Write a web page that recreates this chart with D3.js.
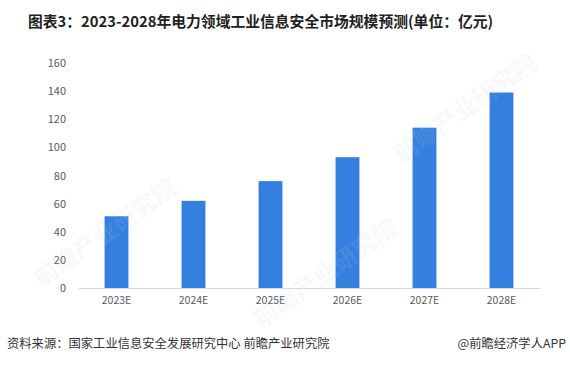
<!DOCTYPE html>
<html><head><meta charset="utf-8">
<script src="https://cdn.jsdelivr.net/npm/d3@7/dist/d3.min.js"></script>
<style>body{margin:0;background:#fff}svg{display:block}</style>
</head><body><svg id="c" width="570" height="366"></svg>
<script>
const categories = ["2023E","2024E","2025E","2026E","2027E","2028E"];
const values = [51, 62, 76, 93, 114, 139];
const yTicks = [0,20,40,60,80,100,120,140,160];
const title = "图表3：2023-2028年电力领域工业信息安全市场规模预测(单位：亿元)";
const source = "资料来源：国家工业信息安全发展研究中心 前瞻产业研究院";
const credit = "@前瞻经济学人APP";

const svg = d3.select("#c");
const font = "'Microsoft YaHei','Noto Sans CJK SC',sans-serif";
const x = d3.scaleBand().domain(categories).range([78,540]).paddingInner(0.69).paddingOuter(0.345);
const y = d3.scaleLinear().domain([0,160]).range([288,63]);

svg.append("text").attr("x",28).attr("y",27).attr("font-family",font).attr("font-size",14.8)
  .attr("font-weight","bold").attr("fill","#222").text(title);

svg.selectAll("rect.bar").data(values).join("rect").attr("class","bar")
  .attr("x",(d,i)=>x(categories[i])).attr("width",x.bandwidth())
  .attr("y",d=>y(d)).attr("height",d=>y(0)-y(d)).attr("fill","#3380E1");

const ya = svg.append("g").attr("transform","translate(66,0)")
  .call(d3.axisLeft(y).tickValues(yTicks).tickSize(0).tickPadding(0));
ya.select(".domain").remove();
ya.selectAll("text").attr("font-family",font).attr("font-size",11).attr("fill","#595959");

const xa = svg.append("g").attr("transform","translate(0,288)")
  .call(d3.axisBottom(x).tickSize(0).tickPadding(9));
xa.select(".domain").attr("stroke","#d9d9d9");
xa.selectAll("text").attr("font-family",font).attr("font-size",10.5).attr("fill","#595959");

svg.append("text").attr("x",7).attr("y",348).attr("font-family",font).attr("font-size",12.3)
  .attr("fill","#333").text(source);
svg.append("text").attr("x",566).attr("y",348).attr("text-anchor","end").attr("font-family",font)
  .attr("font-size",12.3).attr("fill","#333").text(credit);

// faint watermarks on top
const wm = [[110,240],[330,280],[470,115]];
wm.forEach(([wx,wy])=>{
  svg.append("text").attr("transform",`translate(${wx},${wy}) rotate(-35)`)
    .attr("text-anchor","middle").attr("font-family",font).attr("font-size",24).attr("font-weight","bold")
    .attr("fill","#ccc").attr("opacity",0.12).text("前瞻产业研究院");
});
</script></body></html>
